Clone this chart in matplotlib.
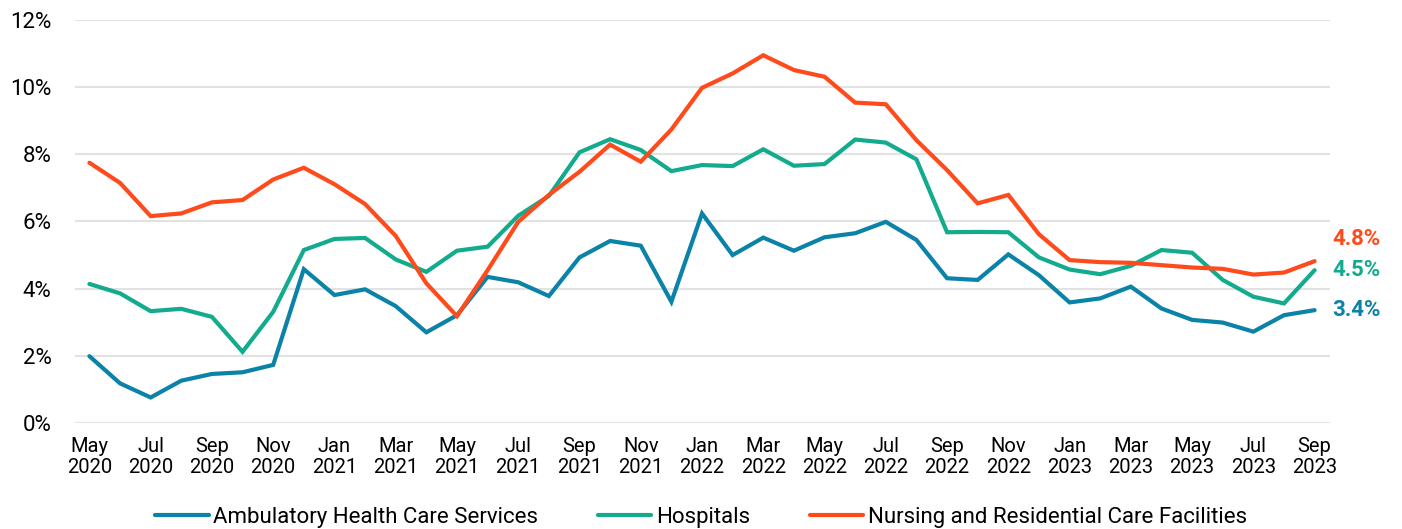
import matplotlib
matplotlib.use("Agg")
import matplotlib.pyplot as plt

plt.rcParams['font.family'] = ['Roboto', 'DejaVu Sans']

months = ["May 2020", "Jun 2020", "Jul 2020", "Aug 2020", "Sep 2020", "Oct 2020", "Nov 2020", "Dec 2020",
          "Jan 2021", "Feb 2021", "Mar 2021", "Apr 2021", "May 2021", "Jun 2021", "Jul 2021", "Aug 2021",
          "Sep 2021", "Oct 2021", "Nov 2021", "Dec 2021", "Jan 2022", "Feb 2022", "Mar 2022", "Apr 2022",
          "May 2022", "Jun 2022", "Jul 2022", "Aug 2022", "Sep 2022", "Oct 2022", "Nov 2022", "Dec 2022",
          "Jan 2023", "Feb 2023", "Mar 2023", "Apr 2023", "May 2023", "Jun 2023", "Jul 2023", "Aug 2023",
          "Sep 2023"]

ambulatory = [1.99, 1.18, 0.76, 1.26, 1.46, 1.51, 1.73, 4.58, 3.81, 3.98, 3.48, 2.70, 3.21, 4.35, 4.19, 3.78,
              4.93, 5.42, 5.28, 3.61, 6.24, 5.00, 5.52, 5.13, 5.53, 5.65, 5.99, 5.45, 4.31, 4.26, 5.02, 4.40,
              3.59, 3.71, 4.06, 3.41, 3.07, 2.99, 2.72, 3.21, 3.36]
hospitals = [4.14, 3.86, 3.33, 3.40, 3.16, 2.12, 3.31, 5.15, 5.48, 5.51, 4.87, 4.50, 5.13, 5.25, 6.17, 6.76,
             8.06, 8.45, 8.13, 7.50, 7.68, 7.65, 8.15, 7.66, 7.71, 8.44, 8.35, 7.85, 5.68, 5.69, 5.68, 4.93,
             4.57, 4.43, 4.68, 5.15, 5.07, 4.26, 3.76, 3.56, 4.55]
nursing = [7.75, 7.15, 6.16, 6.24, 6.57, 6.64, 7.25, 7.60, 7.11, 6.52, 5.57, 4.16, 3.18, 4.55, 5.99, 6.79,
           7.48, 8.29, 7.78, 8.74, 9.98, 10.41, 10.95, 10.51, 10.31, 9.54, 9.49, 8.42, 7.53, 6.54, 6.79, 5.62,
           4.85, 4.79, 4.77, 4.70, 4.63, 4.59, 4.42, 4.48, 4.82]

series_names = ["Ambulatory Health Care Services", "Hospitals", "Nursing and Residential Care Facilities"]
colors = ["#0B82A8", "#12AB8D", "#FF4A1C"]
end_labels = ["3.4%", "4.5%", "4.8%"]
label_dy = [0, 0, 16]   # points; nudge the top label up so they don't collide

fig = plt.figure(figsize=(14.02, 5.29), dpi=100)
ax = fig.add_axes([0.0535, 0.2004, 0.8951, 0.7618])

x = list(range(len(months)))
for vals, name, c, lab, dy in zip([ambulatory, hospitals, nursing], series_names, colors, end_labels, label_dy):
    ax.plot(x, vals, color=c, lw=3, label=name, solid_capstyle='round', solid_joinstyle='miter')
    ax.annotate(lab, (x[-1], vals[-1]), xytext=(13, dy), textcoords='offset points',
                color=c, fontsize=16, fontweight='bold', va='center', ha='left',
                annotation_clip=False)

ax.set_xlim(-0.47, 40.5)
ax.set_ylim(0, 12)
ax.set_yticks(range(0, 13, 2))
ax.set_yticklabels([f"{v}%" for v in range(0, 13, 2)], fontsize=16)
ax.set_xticks(x[::2])
ax.set_xticklabels([m.replace(" ", "\n") for m in months[::2]], fontsize=14.5, linespacing=1.15)
ax.tick_params(axis='x', length=0, pad=10)
ax.tick_params(axis='y', length=0, pad=17)
for s in ax.spines.values():
    s.set_visible(False)
ax.grid(axis='y', color='#E2E2E2', lw=1.5)
ax.set_axisbelow(True)

fig.legend(loc='lower center', bbox_to_anchor=(0.5, -0.035), ncol=3, frameon=False, fontsize=16,
           handlelength=2.4, handletextpad=0.2, columnspacing=2.7)

fig.savefig("out.png", dpi=100)
